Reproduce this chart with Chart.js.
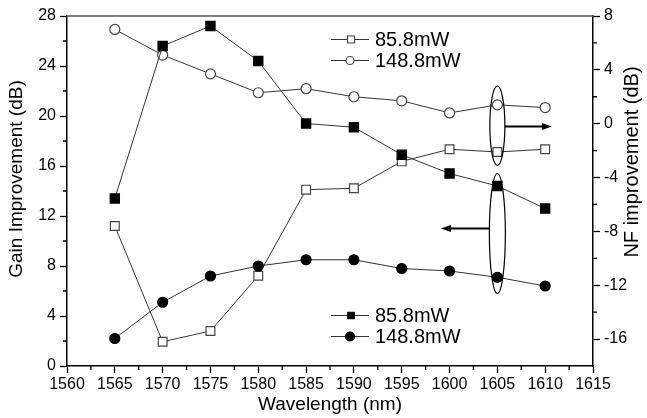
<!DOCTYPE html>
<html>
<head>
<meta charset="utf-8">
<script src="https://cdn.jsdelivr.net/npm/chart.js@4.4.1/dist/chart.umd.min.js"></script>
<style>
  html, body { margin: 0; padding: 0; background: #fff; }
  #wrap { width: 647px; height: 418px; position: relative; }
</style>
</head>
<body>
<div id="wrap"><canvas id="c"></canvas></div>
<script>
const wavelengths = [1565, 1570, 1575, 1580, 1585, 1590, 1595, 1600, 1605, 1610];
const gain858  = [13.4, 25.6, 27.2, 24.4, 19.4, 19.1, 16.9, 15.4, 14.4, 12.6];
const gain1488 = [2.2, 5.1, 7.2, 8.0, 8.5, 8.5, 7.8, 7.6, 7.1, 6.4];
const nf858    = [-7.6, -16.2, -15.4, -11.3, -4.9, -4.8, -2.8, -1.9, -2.1, -1.9];
const nf1488   = [7.0, 5.1, 3.7, 2.3, 2.6, 2.0, 1.7, 0.8, 1.4, 1.2];
const labels   = ['85.8mW', '148.8mW'];
const nfTicks  = [-16, -12, -8, -4, 0, 4, 8];
const titles   = { x: 'Wavelength (nm)', y: 'Gain Improvement (dB)', y1: 'NF improvement (dB)' };

const FONT = '"Liberation Sans", Arial, sans-serif';
const pts = ys => wavelengths.map((x, i) => ({ x, y: ys[i] }));

const ds = (data, axis, style, fill, r) => ({
  data: pts(data), yAxisID: axis,
  borderColor: '#333', borderWidth: 1,
  pointStyle: style, pointRadius: r, pointHoverRadius: r,
  pointBackgroundColor: fill, pointBorderColor: fill === '#fff' ? '#444' : '#000',
  pointBorderWidth: 1.2, tension: 0
});

// minor ticks, top frame line, y titles, ellipses + arrows, legends
const extras = {
  id: 'extras',
  afterDraw(chart) {
    const { ctx, chartArea: a, scales: { x, y, y1 } } = chart;
    ctx.save();
    ctx.strokeStyle = '#000'; ctx.lineWidth = 1.3;
    ctx.beginPath();
    for (let v = 1562.5; v < 1615; v += 5) { const px = x.getPixelForValue(v); ctx.moveTo(px, a.bottom); ctx.lineTo(px, a.bottom + 4); }
    for (let v = 2; v < 28; v += 4) { const py = y.getPixelForValue(v); ctx.moveTo(a.left, py); ctx.lineTo(a.left - 4, py); }
    for (let v = 6; v > -18; v -= 4) { const py = y1.getPixelForValue(v); ctx.moveTo(a.right, py); ctx.lineTo(a.right + 4, py); }
    ctx.stroke();

    // top frame
    ctx.strokeStyle = '#555'; ctx.lineWidth = 1.5;
    ctx.beginPath(); ctx.moveTo(a.left, a.top); ctx.lineTo(a.right, a.top); ctx.stroke();

    // vertical axis titles, both reading bottom to top
    ctx.fillStyle = '#000'; ctx.textAlign = 'center'; ctx.textBaseline = 'middle';
    [[titles.y, 17, 179, 19], [titles.y1, 632, 162, 20]].forEach(([t, tx, ty, fs]) => {
      ctx.save(); ctx.translate(tx, ty); ctx.rotate(-Math.PI / 2);
      ctx.font = fs + 'px ' + FONT; ctx.fillText(t, 0, 0); ctx.restore();
    });

    // ellipses
    ctx.strokeStyle = '#000'; ctx.lineWidth = 1.2;
    const cx = x.getPixelForValue(1605);
    const e1y = y1.getPixelForValue(-0.15), e1r = y1.getPixelForValue(-0.15) - y1.getPixelForValue(2.8);
    ctx.beginPath(); ctx.ellipse(cx, e1y, 7.5, e1r, 0, 0, Math.PI * 2); ctx.stroke();
    const e2y = y.getPixelForValue(10.6), e2r = y.getPixelForValue(10.6) - y.getPixelForValue(15.4);
    ctx.beginPath(); ctx.ellipse(cx, e2y, 8, e2r, 0, 0, Math.PI * 2); ctx.stroke();

    // arrows
    const arrow = (x0, x1, py) => {
      const d = Math.sign(x1 - x0);
      ctx.lineWidth = 2;
      ctx.beginPath(); ctx.moveTo(x0, py); ctx.lineTo(x1 - d * 8, py); ctx.stroke();
      ctx.beginPath(); ctx.moveTo(x1, py); ctx.lineTo(x1 - d * 10, py - 3.5); ctx.lineTo(x1 - d * 10, py + 3.5); ctx.closePath();
      ctx.fillStyle = '#000'; ctx.fill();
    };
    arrow(cx + 7.5, x.getPixelForValue(1610.7), y1.getPixelForValue(-0.2));
    arrow(cx - 8, x.getPixelForValue(1599.1), y.getPixelForValue(11.0));

    // legends
    const legend = (top, open) => {
      ['rect', 'circle'].forEach((style, i) => {
        const py = top + i * 21;
        ctx.strokeStyle = '#333'; ctx.lineWidth = 1.2;
        ctx.beginPath(); ctx.moveTo(331, py); ctx.lineTo(369, py); ctx.stroke();
        ctx.fillStyle = open ? '#fff' : '#000';
        ctx.strokeStyle = open ? '#444' : '#000';
        ctx.beginPath();
        if (style === 'rect') { const s = open ? 7 : 6.5; ctx.rect(351 - s / 2, py - s / 2, s, s); }
        else ctx.arc(350, py, open ? 4 : 4.5, 0, Math.PI * 2);
        ctx.fill(); ctx.stroke();
        ctx.fillStyle = '#000'; ctx.font = '20px ' + FONT;
        ctx.textBaseline = 'middle'; ctx.textAlign = 'left';
        ctx.fillText(labels[i], 375, py + 1);
      });
    };
    legend(39.5, true);
    legend(315.5, false);
    ctx.restore();
  }
};

const axisGrid = { drawOnChartArea: false, tickLength: 7, tickColor: '#000', tickWidth: 1.3 };
const axisBorder = { color: '#000', width: 1.5 };
const tickFont = { family: FONT, size: 16 };
const titleFont = { family: FONT, size: 19 };

new Chart(document.getElementById('c'), {
  type: 'line',
  data: {
    datasets: [
      ds(gain858, 'y', 'rect', '#000', 6.5),
      ds(gain1488, 'y', 'circle', '#000', 5),
      ds(nf858, 'y1', 'rect', '#fff', 6.2),
      ds(nf1488, 'y1', 'circle', '#fff', 5)
    ]
  },
  options: {
    responsive: true, maintainAspectRatio: false, animation: false,
    layout: { padding: { top: 16, left: 0, right: 0, bottom: 0 } },
    plugins: { legend: { display: false }, tooltip: { enabled: false } },
    scales: {
      x: {
        type: 'linear', min: 1560, max: 1615,
        ticks: { stepSize: 5, color: '#000', font: tickFont, padding: 2, callback: v => String(v) },
        grid: axisGrid, border: axisBorder,
        title: { display: true, text: titles.x, color: '#000', font: titleFont, padding: { top: 0, bottom: 2 } },
        afterFit: s => { s.height = 52; }
      },
      y: {
        position: 'left', min: 0, max: 28,
        ticks: { stepSize: 4, color: '#000', font: tickFont, padding: 4 },
        grid: axisGrid, border: axisBorder,
        afterFit: s => { s.width = 67; }
      },
      y1: {
        position: 'right', min: -18, max: 8,
        afterBuildTicks: s => { s.ticks = nfTicks.map(value => ({ value })); },
        ticks: { color: '#000', font: tickFont, padding: 4 },
        grid: axisGrid, border: axisBorder,
        afterFit: s => { s.width = 54; }
      }
    }
  },
  plugins: [extras]
});
</script>
</body>
</html>
